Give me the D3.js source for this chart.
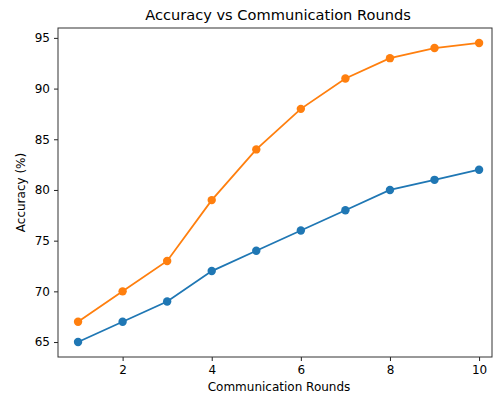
<!DOCTYPE html>
<html><head><meta charset="utf-8">
<script src="https://cdn.jsdelivr.net/npm/d3@7"></script>
<style>body{margin:0;background:#fff}svg{display:block}text{font-family:"DejaVu Sans",sans-serif;fill:#000}</style>
</head><body><svg id="c" width="495" height="396"></svg>
<script>
const rounds = [1,2,3,4,5,6,7,8,9,10];
const seriesA = [65,67,69,72,74,76,78,80,81,82];
const seriesB = [67,70,73,79,84,88,91,93,94,94.5];
const xTicks = [2,4,6,8,10];
const yTicks = [65,70,75,80,85,90,95];
const colors = ["#1f77b4","#ff7f0e"];

const svg = d3.select("#c");
const L=58,R=492,T=28,B=357;
const x = d3.scaleLinear().domain([0.55,10.29]).range([L,R]);
const y = d3.scaleLinear().domain([63.525,95.975]).range([B,T]);

const xa = svg.append("g").attr("transform",`translate(0,${B})`)
  .call(d3.axisBottom(x).tickValues(xTicks).tickSize(4).tickPadding(4).tickFormat(d3.format("d")));
const ya = svg.append("g").attr("transform",`translate(${L},0)`)
  .call(d3.axisLeft(y).tickValues(yTicks).tickSize(4).tickPadding(4).tickFormat(d3.format("d")));
[xa,ya].forEach(a=>{a.select(".domain").remove();a.selectAll("line").attr("stroke","#222").attr("stroke-width",1);
  a.selectAll("text").attr("font-size",12).attr("font-family","DejaVu Sans").attr("fill","#000");});

svg.append("rect").attr("x",L).attr("y",T).attr("width",R-L).attr("height",B-T)
  .attr("fill","none").attr("stroke","#333").attr("stroke-width",1);

[seriesA,seriesB].forEach((s,i)=>{
  const pts = rounds.map((r,j)=>[r,s[j]]);
  svg.append("path").datum(pts).attr("fill","none").attr("stroke",colors[i]).attr("stroke-width",1.8)
    .attr("d",d3.line().x(d=>x(d[0])).y(d=>y(d[1])));
  svg.append("g").selectAll("circle").data(pts).join("circle")
    .attr("cx",d=>x(d[0])).attr("cy",d=>y(d[1])).attr("r",4.2).attr("fill",colors[i]);
});

svg.append("text").attr("x",278).attr("y",20).attr("text-anchor","middle").attr("font-size",14.6)
  .text("Accuracy vs Communication Rounds");
svg.append("text").attr("x",279).attr("y",391).attr("text-anchor","middle").attr("font-size",12)
  .text("Communication Rounds");
svg.append("text").attr("transform",`translate(25,${(T+B)/2}) rotate(-90)`).attr("text-anchor","middle").attr("font-size",12)
  .text("Accuracy (%)");
</script></body></html>
